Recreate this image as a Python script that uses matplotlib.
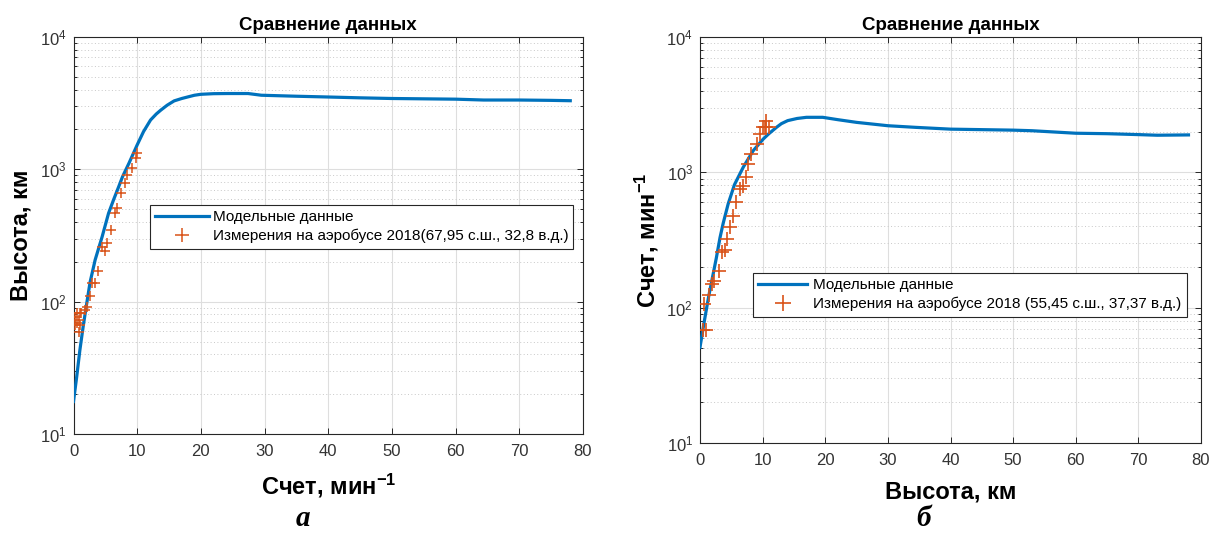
import matplotlib
matplotlib.use("Agg")
import matplotlib.pyplot as plt
import numpy as np
from matplotlib.ticker import LogLocator, NullFormatter

# ---- data: left panel (a) ----
a_model_x = [0, 0.5, 1.0, 1.5, 2.0, 2.6, 3.4, 4.5, 5.5, 6.3, 7.1, 7.7, 8.7, 10, 11, 12.1, 13, 13.7,
             14.7, 15.8, 17, 17.9, 19, 20, 22, 24.2, 27.4, 29.5, 34.8, 40, 45, 50, 55, 60, 64.4,
             70, 75, 78]
a_model_y = [17.6, 27, 43, 64, 92, 140, 207, 310, 465, 590, 740, 880, 1110, 1530, 1930, 2360, 2620, 2800,
             3050, 3290, 3430, 3520, 3630, 3690, 3730, 3740, 3740, 3630, 3570, 3520, 3470, 3430, 3410, 3390, 3340,
             3340, 3320, 3300]
a_meas_x = [0.16, 0.27, 0.53, 0.53, 0.79, 0.79, 1.06, 1.06, 1.2, 1.73, 2.1, 2.63, 2.89, 3.41, 3.83,
            4.46, 4.88, 5.25, 5.88, 6.46, 6.83, 7.52, 8.04, 8.41, 9.2, 9.74, 10.0]
a_meas_y = [66.7, 77, 81.7, 68.7, 73, 59.3, 81.7, 66.7, 81.7, 86.5, 90.7, 110, 138, 139, 171,
            260, 243, 276, 347, 466, 507, 659, 783, 905, 1020, 1210, 1320]

# ---- data: right panel (б) ----
b_model_x = [0, 0.7, 1.0, 1.4, 2.0, 2.6, 3.2, 3.7, 4.5, 5.5, 6.9, 8.5, 10.1, 11, 12.2, 13, 14,
             15.5, 17, 19.6, 22, 25, 30, 34.4, 40, 50, 53, 60, 65, 70, 73, 78]
b_model_y = [51, 80, 96, 122, 168, 232, 330, 420, 585, 810, 1090, 1446, 1763, 1930, 2148, 2290, 2410,
             2500, 2550, 2550, 2450, 2340, 2210, 2150, 2085, 2050, 2030, 1945, 1930, 1900, 1880, 1890]
b_meas_x = [0.53, 0.9, 0.69, 1.5, 1.93, 2.3, 3.1, 3.54, 3.92, 4.3, 4.73, 5.26, 5.8, 6.33, 6.87,
            7.41, 7.68, 8.22, 9.03, 9.56, 10.0, 10.3, 10.6, 11.0, 10.5]
b_meas_y = [68, 68, 106, 123, 150, 157, 188, 257, 265, 323, 393, 479, 601, 754, 797,
            929, 1150, 1370, 1620, 1920, 2170, 2170, 2170, 2170, 2410]

x_ticks = [0, 10, 20, 30, 40, 50, 60, 70, 80]

titles = ["Сравнение данных", "Сравнение данных"]
a_xlabel = "Счет, мин$^{\\mathbf{-1}}$"
a_ylabel = "Высота, км"
b_xlabel = "Высота, км"
b_ylabel = "Счет, мин$^{\\mathbf{-1}}$"
a_leg = ["Модельные данные", "Измерения на аэробусе 2018(67,95 с.ш., 32,8 в.д.)"]
b_leg = ["Модельные данные", "Измерения на аэробусе 2018 (55,45 с.ш., 37,37 в.д.)"]

plt.rcParams['font.family'] = ['Liberation Sans', 'DejaVu Sans']
plt.rcParams['mathtext.fontset'] = 'custom'
plt.rcParams['mathtext.rm'] = 'Liberation Sans'
plt.rcParams['mathtext.bf'] = 'Liberation Sans:bold'
plt.rcParams['mathtext.it'] = 'Liberation Sans:italic'

BLUE = '#0072BD'
ORANGE = '#D95319'
DARK = '#262626'

fig = plt.figure(figsize=(12.12, 5.33), dpi=100)
W, H = 1212, 533

def make_ax(l, r, t, b):
    return fig.add_axes([l / W, 1 - b / H, (r - l) / W, (b - t) / H])

axA = make_ax(73.5, 583, 37, 434)
axB = make_ax(700, 1201, 37, 443)

def style(ax):
    ax.set_yscale('log')
    ax.set_xlim(0, 80)
    ax.set_ylim(10, 1e4)
    ax.set_xticks(x_ticks)
    ax.yaxis.set_major_locator(LogLocator(base=10, numticks=10))
    ax.yaxis.set_minor_locator(LogLocator(base=10, subs=np.arange(2, 10), numticks=20))
    ax.yaxis.set_minor_formatter(NullFormatter())
    ax.grid(True, which='major', color='#dedede', linewidth=0.8, linestyle='-')
    ax.grid(True, which='minor', axis='y', color='#c8c8c8', linewidth=0.7, linestyle=(0, (1, 2.5)))
    ax.set_axisbelow(True)
    ax.tick_params(which='both', direction='in', top=True, right=True, colors=DARK,
                   labelsize=12, width=0.7)
    ax.tick_params(which='major', length=4)
    ax.tick_params(which='minor', length=2.5)
    ax.tick_params(axis='both', which='major', labelcolor='#333333')
    ax.tick_params(axis='x', pad=7.5)
    ax.tick_params(axis='y', pad=5)
    for s in ax.spines.values():
        s.set_color(DARK)
        s.set_linewidth(0.8)

for ax in (axA, axB):
    style(ax)

# Left panel
axA.plot(a_model_x, a_model_y, color=BLUE, linewidth=2.3, label=a_leg[0], zorder=3)
axA.plot(a_meas_x, a_meas_y, linestyle='none', marker='+', color=ORANGE, markersize=7.5,
         markeredgewidth=1.1, label=a_leg[1], zorder=4)
axA.set_title(titles[0], fontsize=13.5, fontweight='bold', pad=5, color='black')
axA.set_xlabel(a_xlabel, fontsize=17, fontweight='bold', va='center')
axA.xaxis.set_label_coords(0.5, (434 - 486) / 397)
axA.set_ylabel(a_ylabel, fontsize=17, fontweight='bold', va='center')
axA.yaxis.set_label_coords((21 - 73.5) / 509.5, 0.5)
legA = axA.legend(loc='upper left', mode='expand',
                  bbox_to_anchor=(0.150, 0.461, 0.83, 0.116),
                  fontsize=11, frameon=True, fancybox=False, framealpha=1,
                  edgecolor=DARK, borderaxespad=0, borderpad=0.35, handlelength=3.5,
                  handletextpad=0.3, labelspacing=0.3, markerscale=1.4)
legA.get_frame().set_linewidth(0.8)

# Right panel
axB.plot(b_model_x, b_model_y, color=BLUE, linewidth=2.3, label=b_leg[0], zorder=3)
axB.plot(b_meas_x, b_meas_y, linestyle='none', marker='+', color=ORANGE, markersize=10,
         markeredgewidth=1.2, label=b_leg[1], zorder=4)
axB.set_title(titles[1], fontsize=13.5, fontweight='bold', pad=5, color='black')
axB.set_xlabel(b_xlabel, fontsize=17, fontweight='bold', va='center')
axB.xaxis.set_label_coords(0.5, (443 - 492) / 406)
axB.set_ylabel(b_ylabel, fontsize=17, fontweight='bold', va='center')
axB.yaxis.set_label_coords((647 - 700) / 501, 0.5)
legB = axB.legend(loc='upper left', mode='expand',
                  bbox_to_anchor=(0.106, 0.305, 0.866, 0.114),
                  fontsize=11, frameon=True, fancybox=False, framealpha=1,
                  edgecolor=DARK, borderaxespad=0, borderpad=0.35, handlelength=3.2,
                  handletextpad=0.35, labelspacing=0.3, markerscale=1.2)
legB.get_frame().set_linewidth(0.8)

# panel letters
fig.text(303 / W, 1 - 519 / H, "а", fontsize=21, fontweight='bold', style='italic',
         family='Liberation Serif', ha='center', va='center')
fig.text(924 / W, 1 - 518 / H, "б", fontsize=21, fontweight='bold', style='italic',
         family='Liberation Serif', ha='center', va='center')

fig.savefig("out.png", dpi=100)
